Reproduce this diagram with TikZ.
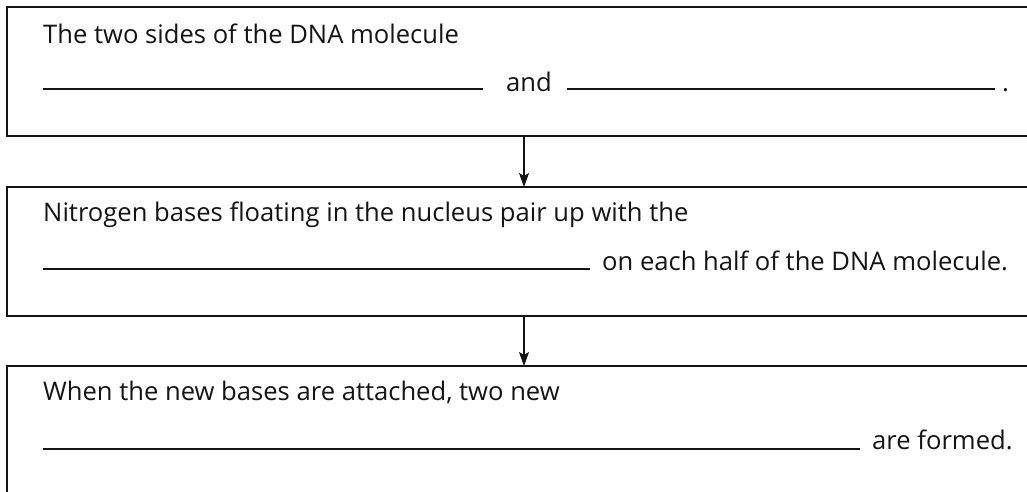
\documentclass[tikz,border=0pt]{standalone}
\usepackage{fontspec}
\setmainfont{Open Sans}
\usepackage{tikz}
\usetikzlibrary{arrows.meta}
\definecolor{ink}{rgb}{0.08, 0.08, 0.08}

\tikzset{
	stage/.style={draw=ink, line width=1.4pt, inner sep=0pt, outer sep=0pt, anchor=north west, minimum width=1040pt, minimum height=129pt},
	txt/.style={anchor=base west, inner sep=0pt, text=ink, font=\fontsize{25.6}{30}\selectfont},
	blank/.style={draw=ink, line width=1.1pt},
	flow/.style={draw=ink, line width=1.2pt, -{Stealth[length=14pt, width=10pt, inset=3pt]}}
}

\begin{document}
\begin{tikzpicture}[x=1pt, y=-1pt]
		\useasboundingbox (0,0) rectangle (1027,491);
		
		% Draw the three boxes
		\node (sides) [stage] at (7,7) {};
		\node (pair) [stage] at (7,187) {};
		\node (formed) [stage, minimum height=150pt] at (7,366) {};
		
		% Text of the first box
		\node (sidestxt) [txt] at (43,43) {The two sides of the DNA molecule};
		\node (and) [txt] at (506,91) {and};
		\node (dot) [txt] at (1002,91) {.};
		\draw[blank] (43,89) -- (483,89);
		\draw[blank] (567,89) -- (995,89);
		
		% Text of the second box
		\node (pairtxt) [txt] at (43,221) {Nitrogen bases floating in the nucleus pair up with the};
		\node (half) [txt] at (602,270) {on each half of the DNA molecule.};
		\draw[blank] (43,269) -- (590,269);
		
		% Text of the third box
		\node (formedtxt) [txt] at (43,400) {When the new bases are attached, two new};
		\node (are) [txt] at (872,449) {are formed.};
		\draw[blank] (43,449) -- (860,449);
		
		% Connect the boxes with arrows
		\coordinate (mid) at (524,0);
		\draw[flow] (sides.south -| mid) -- (pair.north -| mid);
		\draw[flow] (pair.south -| mid) -- (formed.north -| mid);
		\end{tikzpicture}
\end{document}
